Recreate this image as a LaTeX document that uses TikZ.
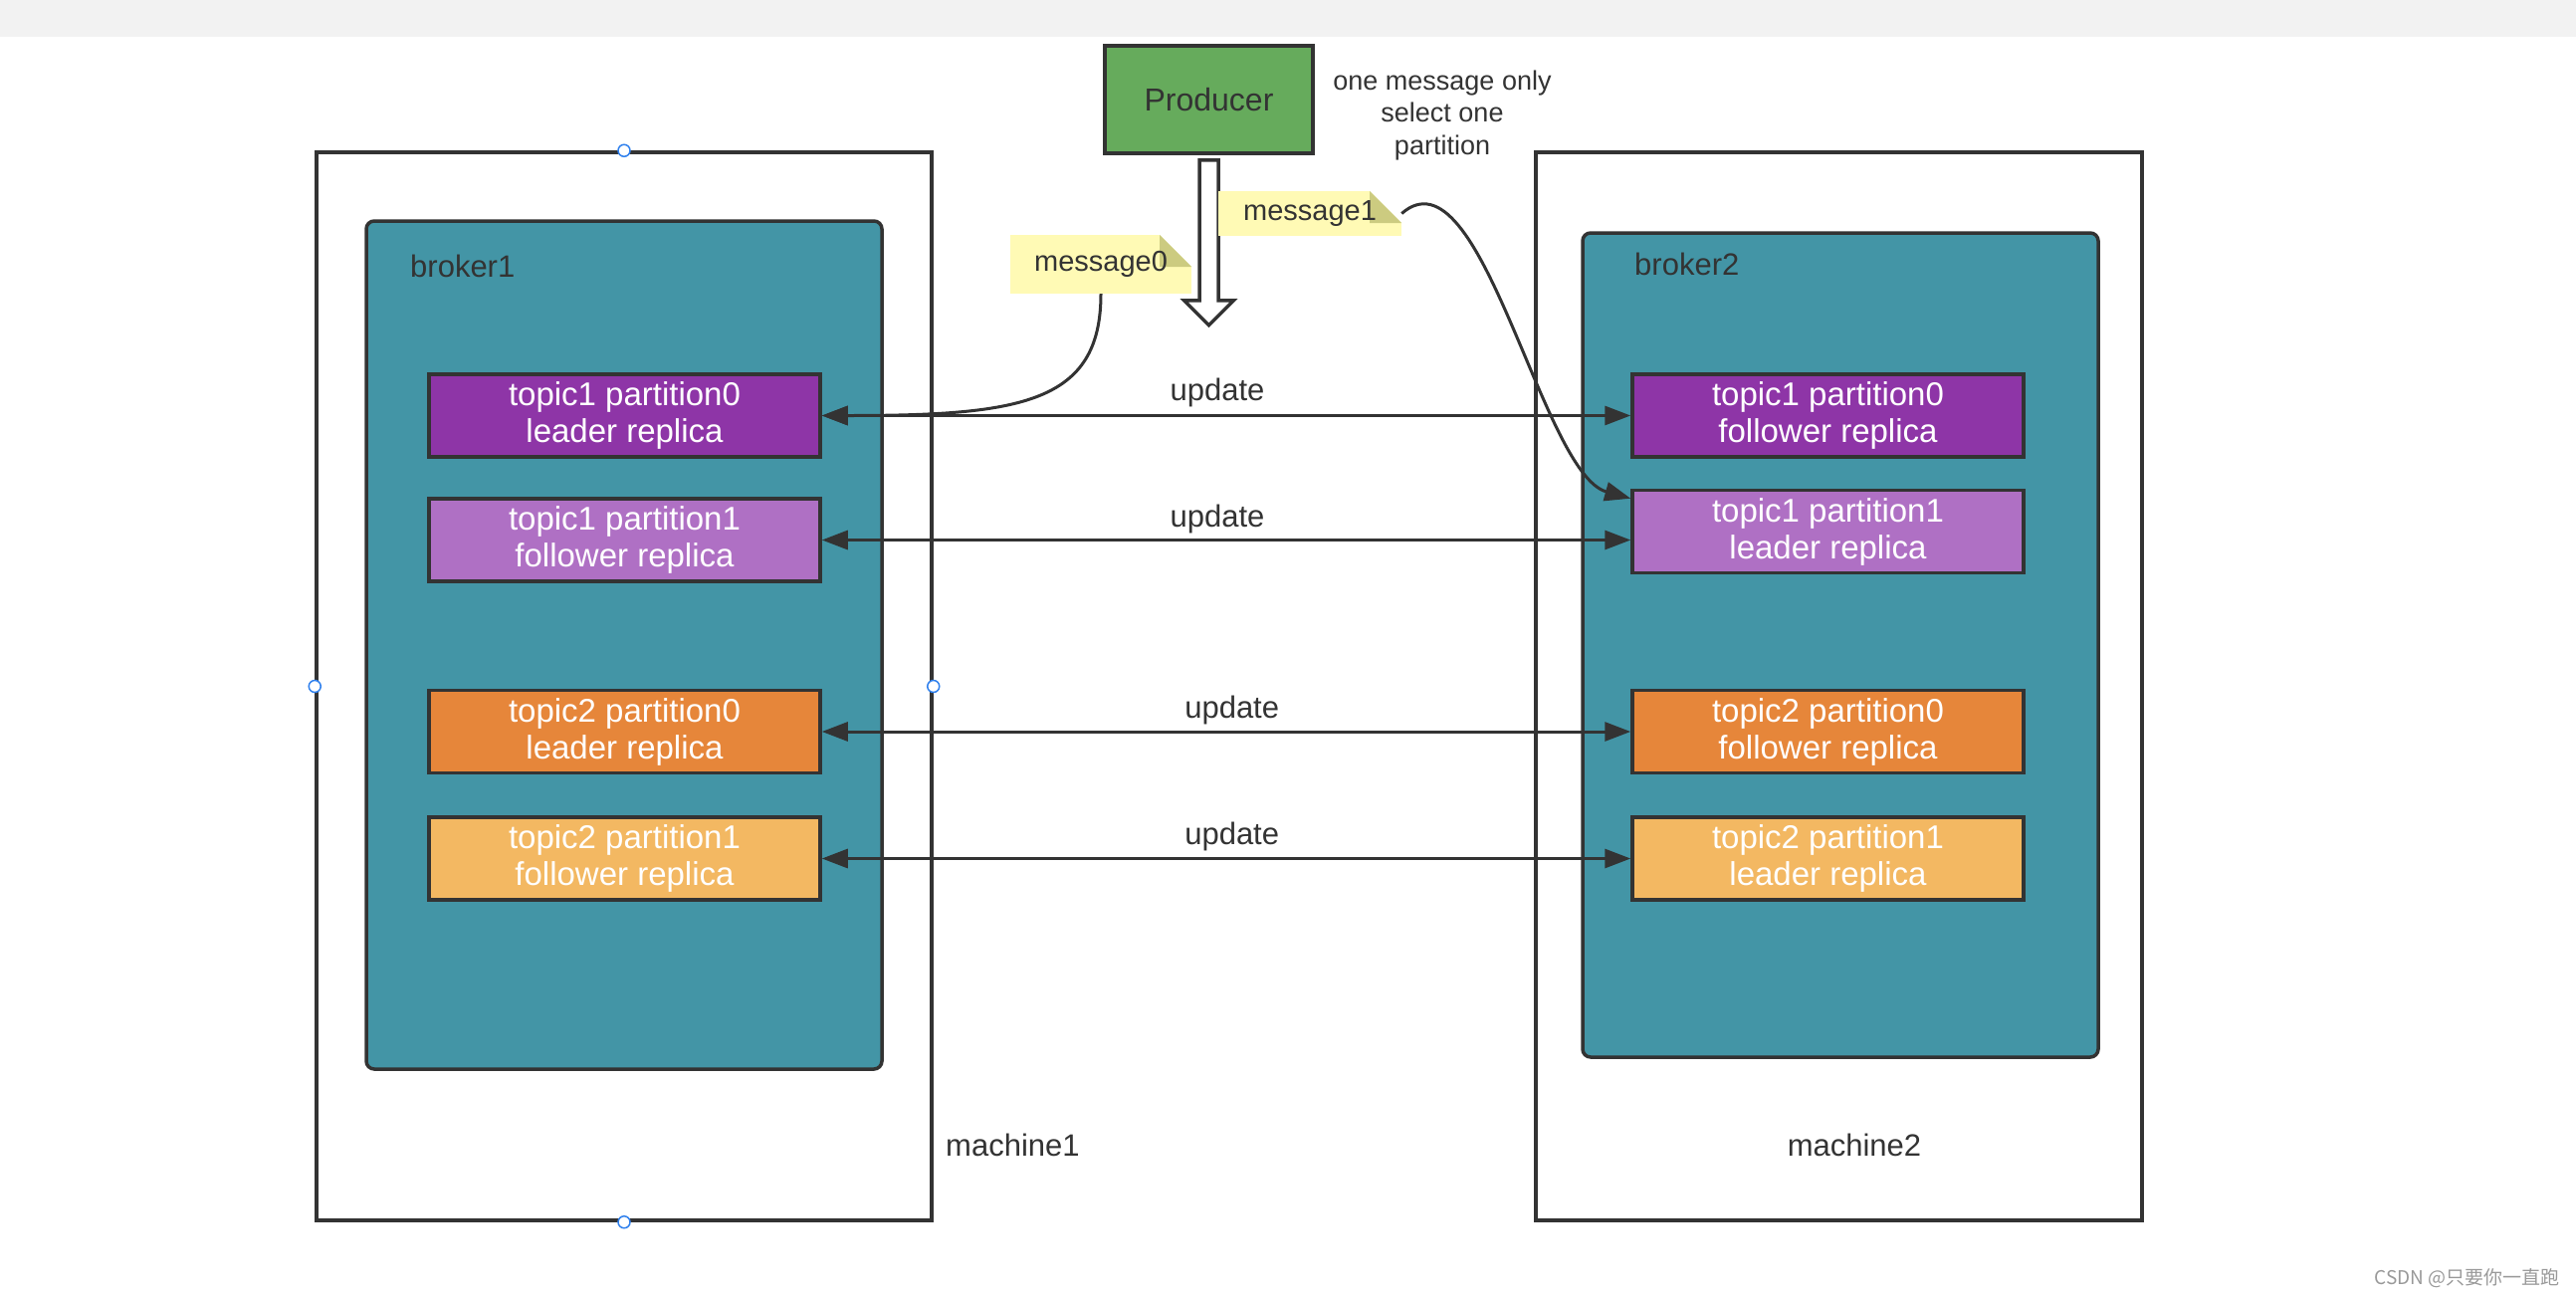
\documentclass[tikz,border=0pt]{standalone}
\usepackage{fontspec}
\setmainfont{Liberation Sans}
\newfontfamily\cjkfont{Noto Sans CJK SC}
\usetikzlibrary{arrows.meta}
\definecolor{linedark}{HTML}{333333}
\definecolor{textdark}{HTML}{333333}
\definecolor{bandgray}{HTML}{F2F2F2}
\definecolor{prodgreen}{HTML}{66AB5C}
\definecolor{brokerteal}{HTML}{4395A6}
\definecolor{tpurple}{HTML}{8E35A7}
\definecolor{tlilac}{HTML}{AF70C4}
\definecolor{torange}{HTML}{E6863A}
\definecolor{tsand}{HTML}{F3B862}
\definecolor{noteyellow}{HTML}{FFFAB5}
\definecolor{notefold}{HTML}{CCCB80}
\definecolor{handleblue}{HTML}{2F80ED}
\definecolor{wmgray}{HTML}{999999}
\tikzset{
  machinebox/.style={draw=linedark, line width=3.5pt, fill=white, inner sep=0pt, minimum height=1073pt},
  brokerbox/.style={draw=linedark, line width=3.5pt, fill=brokerteal, rounded corners=8pt, inner sep=0pt, minimum width=518pt},
  partbox/.style={draw=linedark, line width=3.5pt, minimum width=393pt, minimum height=83pt, inner sep=0pt, text=white, align=center, font=\fontsize{33}{37}\selectfont},
  lbl/.style={text=textdark, inner sep=0pt, font=\fontsize{31}{37}\selectfont},
  msgnote/.style={fill=noteyellow, inner sep=0pt, text=textdark, font=\fontsize{29}{34}\selectfont,
    path picture={
      \fill[white] ([xshift=-32pt]path picture bounding box.north east) -- (path picture bounding box.north east) -- ([yshift=-32pt]path picture bounding box.north east) -- cycle;
      \fill[notefold] ([xshift=-32pt]path picture bounding box.north east) -- ([yshift=-32pt]path picture bounding box.north east) -- ([xshift=-32pt,yshift=-32pt]path picture bounding box.north east) -- cycle;
    }},
  conn/.style={draw=linedark, line width=3pt},
  tipT/.tip={Triangle[length=26pt,width=19pt]},
  handle/.style={circle, draw=handleblue, fill=white, line width=1.5pt, minimum size=12pt, inner sep=0pt}
}
\begin{document}
\begin{tikzpicture}[x=1pt,y=-1pt]
\useasboundingbox (0,0) rectangle (2588,1304);
\fill[white] (0,0) rectangle (2588,1304);
\fill[bandgray] (0,0) rectangle (2588,37);

% machines
\node[machinebox, minimum width=618pt] (M1) at (627,689.5) {};
\node[machinebox, minimum width=609pt] (M2) at (1847.5,689.5) {};
% brokers
\node[brokerbox, minimum height=852pt] (B1) at (627,648) {};
\node[brokerbox, minimum height=828pt] (B2) at (1849,648) {};
\node[lbl, anchor=west] (B1l) at (412,267) {broker1};
\node[lbl, anchor=west] (B2l) at (1642,265) {broker2};
\node[lbl, anchor=west] (M1l) at (950,1150) {machine1};
\node[lbl] (M2l) at (1863,1150) {machine2};

% partitions
\node[partbox, fill=tpurple] (L10) at (627.5,417.5) {topic1 partition0\\leader replica};
\node[partbox, fill=tlilac] (L11) at (627.5,542.5) {topic1 partition1\\follower replica};
\node[partbox, fill=torange] (L20) at (627.5,735) {topic2 partition0\\leader replica};
\node[partbox, fill=tsand] (L21) at (627.5,862.5) {topic2 partition1\\follower replica};
\node[partbox, fill=tpurple] (R10) at (1836.5,417.5) {topic1 partition0\\follower replica};
\node[partbox, fill=tlilac] (R11) at (1836.5,534) {topic1 partition1\\leader replica};
\node[partbox, fill=torange] (R20) at (1836.5,735) {topic2 partition0\\follower replica};
\node[partbox, fill=tsand] (R21) at (1836.5,862.5) {topic2 partition1\\leader replica};

% producer
\node[draw=linedark, line width=3.5pt, fill=prodgreen, minimum width=209pt, minimum height=108pt, inner sep=0pt, text=textdark, font=\fontsize{32}{37}\selectfont] (P) at (1214.5,100) {Producer};
\node[text=textdark, align=center, inner sep=0pt, font=\fontsize{27}{32.5}\selectfont] (Pnote) at (1449,116) {one message only\\select one\\partition};

% hollow arrow
\draw[draw=linedark, line width=3.5pt, fill=white, line join=miter, shift={(P.south)}]
  (-9.5,5) -- (9.5,5) -- (9.5,146) -- (25,146) -- (0,171) -- (-25,146) -- (-9.5,146) -- cycle;

% messages
\node[msgnote, minimum width=182pt, minimum height=59pt] (m0) at (1106,265.5) {message0};
\node[msgnote, minimum width=184pt, minimum height=45pt] (m1) at (1316,214.5) {message1};

% update connectors
\draw[conn, tipT-tipT] (L10.east) -- (R10.west) node[pos=0.489, yshift=23pt, lbl] {update};
\draw[conn, tipT-tipT] (L11.east) -- (L11.east -| R11.west) node[pos=0.489, yshift=21pt, lbl] {update};
\draw[conn, tipT-tipT] (L20.east) -- (R20.west) node[pos=0.507, yshift=22pt, lbl] {update};
\draw[conn, tipT-tipT] (L21.east) -- (R21.west) node[pos=0.507, yshift=22pt, lbl] {update};

% message connectors
\draw[conn, -tipT] (m0.south) .. controls +(0,110) and +(200,0) .. (L10.east);
\draw[conn, -tipT] (m1.east) .. controls +(80,-70) and +(-90,-25) .. ([yshift=-10pt]R11.north west);

% selection handles
\node[handle] (h1) at (M1.north) {};
\node[handle] (h2) at (M1.south) {};
\node[handle] (h3) at (M1.west) {};
\node[handle] (h4) at (M1.east) {};

% watermark
\node[anchor=east, text=wmgray, inner sep=0pt, font=\cjkfont\fontsize{19}{22}\selectfont] (wm) at (2572,1284) {CSDN @只要你一直跑};
\end{tikzpicture}
\end{document}
